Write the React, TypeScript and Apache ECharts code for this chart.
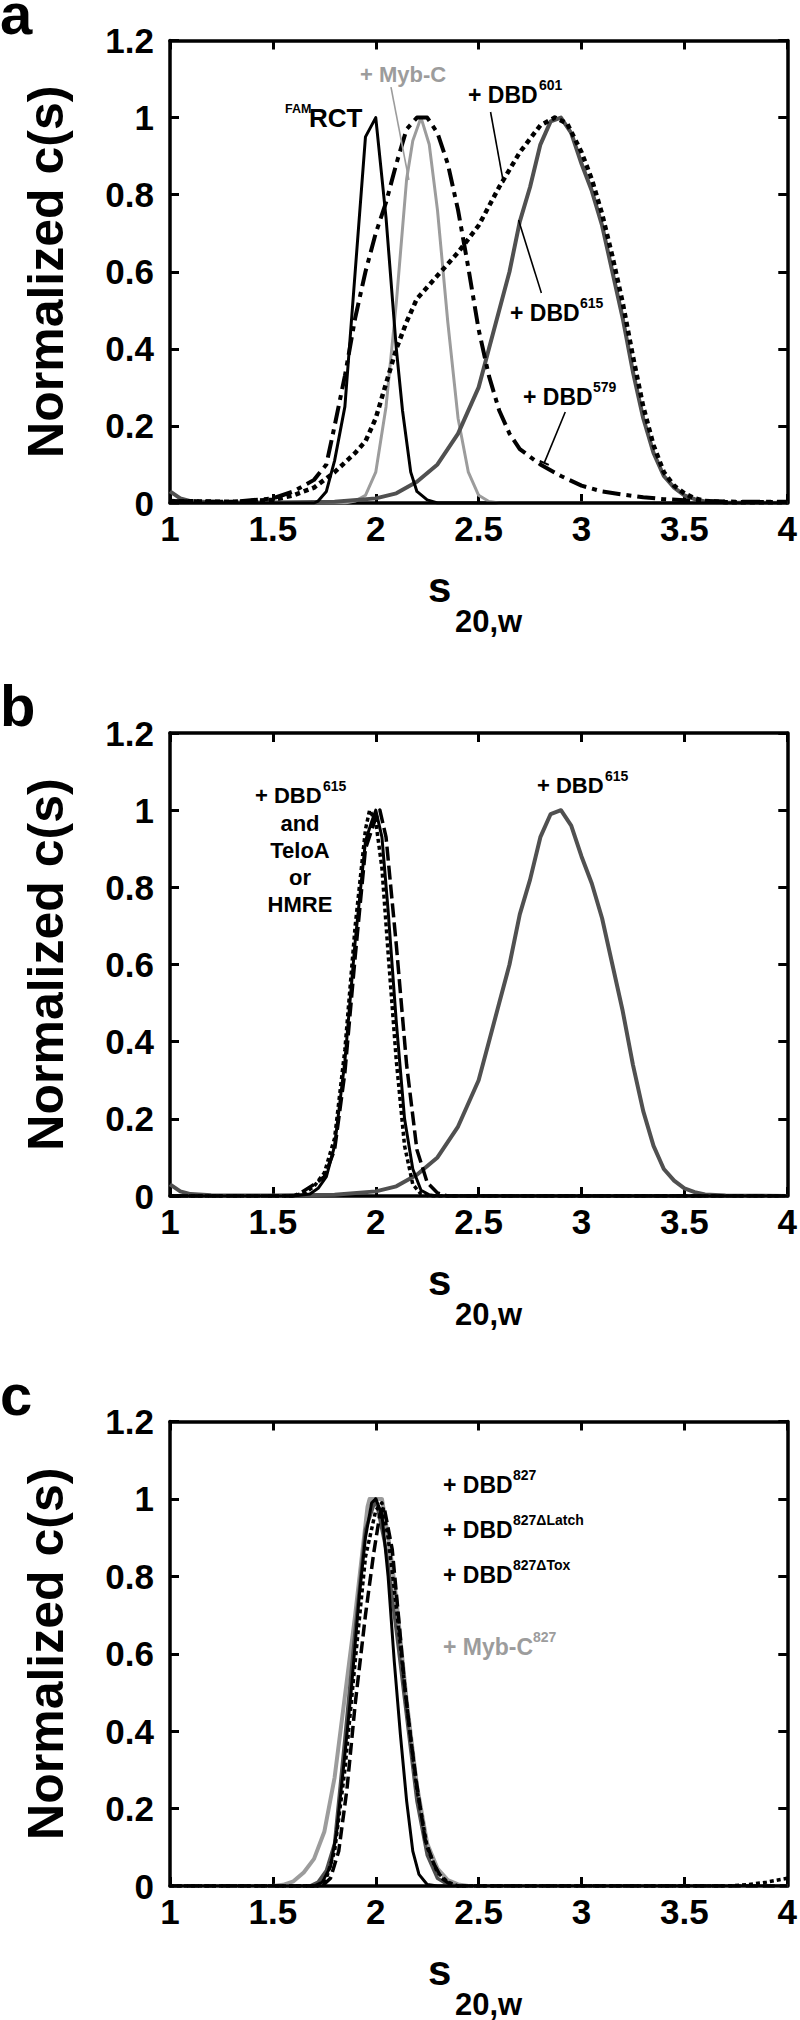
import React, { useEffect, useRef } from "react";
import * as echarts from "echarts";

// ---------------- DATA (s20,w , normalized c(s)) ----------------
// Panel a
const famRctA: [number, number][] = [
  [1.0, 0], [1.5, 0], [1.7, 0], [1.72, 0.005], [1.76, 0.03], [1.8, 0.11], [1.85, 0.25], [1.9, 0.6],
  [1.95, 0.95], [2.0, 1.0], [2.05, 0.74], [2.1, 0.4], [2.13, 0.24], [2.17, 0.08], [2.2, 0.03],
  [2.25, 0.008], [2.3, 0], [4.0, 0],
];
const mybCA: [number, number][] = [
  [1.0, 0], [1.85, 0], [1.9, 0.005], [1.95, 0.02], [2.0, 0.08], [2.05, 0.25], [2.1, 0.52], [2.15, 0.84],
  [2.18, 0.94], [2.22, 1.0], [2.26, 0.93], [2.3, 0.76], [2.35, 0.47], [2.4, 0.22], [2.45, 0.08],
  [2.5, 0.02], [2.55, 0.004], [2.6, 0], [4.0, 0],
];
const dbd579A: [number, number][] = [
  [1.0, 0.005], [1.3, 0.003], [1.5, 0.012], [1.6, 0.03], [1.7, 0.06], [1.76, 0.1], [1.8, 0.2],
  [1.85, 0.33], [1.9, 0.48], [1.95, 0.6], [2.0, 0.7], [2.05, 0.78], [2.1, 0.88], [2.15, 0.97],
  [2.2, 1.0], [2.25, 1.0], [2.3, 0.96], [2.35, 0.88], [2.4, 0.76], [2.45, 0.61], [2.5, 0.45],
  [2.55, 0.33], [2.6, 0.24], [2.65, 0.18], [2.7, 0.14], [2.8, 0.1], [2.9, 0.07], [3.0, 0.045],
  [3.1, 0.03], [3.2, 0.022], [3.3, 0.015], [3.4, 0.01], [3.5, 0.007], [3.6, 0.005], [3.8, 0.003],
  [4.0, 0.003],
];
const dbd601A: [number, number][] = [
  [1.0, 0.005], [1.3, 0.003], [1.5, 0.008], [1.6, 0.02], [1.7, 0.04], [1.8, 0.08], [1.9, 0.13],
  [1.95, 0.16], [2.0, 0.22], [2.05, 0.31], [2.1, 0.4], [2.15, 0.47], [2.2, 0.53], [2.3, 0.59],
  [2.4, 0.65], [2.5, 0.72], [2.6, 0.82], [2.7, 0.91], [2.8, 0.98], [2.87, 1.0], [2.93, 0.985],
  [3.0, 0.91], [3.05, 0.84], [3.1, 0.75], [3.15, 0.64], [3.2, 0.52], [3.25, 0.38], [3.3, 0.25],
  [3.35, 0.15], [3.4, 0.08], [3.45, 0.045], [3.5, 0.025], [3.55, 0.012], [3.6, 0.005], [3.7, 0.002],
  [4.0, 0.002],
];
const dbd615: [number, number][] = [
  [1.0, 0.03], [1.05, 0.012], [1.1, 0.005], [1.2, 0.002], [1.5, 0.001], [1.8, 0.003], [2.0, 0.012],
  [2.1, 0.025], [2.2, 0.055], [2.3, 0.1], [2.4, 0.18], [2.5, 0.3], [2.55, 0.4], [2.6, 0.5],
  [2.65, 0.6], [2.7, 0.73], [2.75, 0.82], [2.8, 0.93], [2.85, 0.99], [2.9, 1.0], [2.95, 0.96],
  [3.0, 0.88], [3.05, 0.81], [3.1, 0.72], [3.15, 0.6], [3.2, 0.48], [3.25, 0.34], [3.3, 0.22],
  [3.35, 0.13], [3.4, 0.07], [3.45, 0.04], [3.5, 0.02], [3.55, 0.01], [3.6, 0.004], [3.7, 0.001],
  [4.0, 0],
];

// Panel b (+ DBD615 with TeloA or HMRE)
const solidB: [number, number][] = [
  [1.0, 0], [1.6, 0], [1.68, 0.005], [1.72, 0.02], [1.76, 0.05], [1.8, 0.13], [1.85, 0.35],
  [1.9, 0.66], [1.95, 0.92], [1.98, 0.97], [2.0, 1.0], [2.03, 0.93], [2.06, 0.74], [2.1, 0.45],
  [2.14, 0.2], [2.18, 0.07], [2.22, 0.015], [2.26, 0.003], [2.3, 0], [4.0, 0],
];
const dottedB: [number, number][] = [
  [1.0, 0], [1.6, 0], [1.66, 0.01], [1.7, 0.025], [1.75, 0.06], [1.8, 0.15], [1.85, 0.38],
  [1.9, 0.7], [1.95, 0.95], [1.97, 1.0], [2.0, 0.97], [2.03, 0.85], [2.06, 0.63], [2.1, 0.35],
  [2.14, 0.13], [2.18, 0.03], [2.22, 0.005], [2.26, 0], [4.0, 0],
];
const dashedB: [number, number][] = [
  [1.0, 0], [1.6, 0], [1.64, 0.01], [1.7, 0.03], [1.75, 0.05], [1.8, 0.12], [1.85, 0.32],
  [1.9, 0.62], [1.95, 0.9], [2.0, 0.98], [2.02, 1.0], [2.05, 0.93], [2.1, 0.65], [2.15, 0.34],
  [2.2, 0.12], [2.25, 0.035], [2.3, 0.008], [2.35, 0], [4.0, 0],
];

// Panel c
const mybC827: [number, number][] = [
  [1.0, 0], [1.5, 0], [1.55, 0.003], [1.6, 0.012], [1.65, 0.035], [1.7, 0.07], [1.75, 0.14],
  [1.8, 0.28], [1.85, 0.49], [1.9, 0.7], [1.93, 0.84], [1.96, 0.98], [1.97, 1.0], [2.03, 1.0],
  [2.07, 0.87], [2.1, 0.74], [2.15, 0.48], [2.2, 0.26], [2.25, 0.11], [2.3, 0.045], [2.35, 0.015],
  [2.4, 0.004], [2.45, 0], [4.0, 0],
];
const greyC: [number, number][] = [
  [1.0, 0], [1.68, 0], [1.72, 0.01], [1.76, 0.04], [1.8, 0.11], [1.85, 0.38], [1.9, 0.66],
  [1.95, 0.92], [2.0, 1.0], [2.05, 0.87], [2.1, 0.66], [2.15, 0.44], [2.2, 0.22], [2.25, 0.08],
  [2.3, 0.02], [2.35, 0.004], [2.4, 0], [4.0, 0],
];
const dbd827: [number, number][] = [
  [1.0, 0], [1.7, 0], [1.74, 0.01], [1.78, 0.05], [1.81, 0.14], [1.85, 0.34], [1.88, 0.5],
  [1.92, 0.75], [1.95, 0.9], [1.98, 0.99], [2.0, 1.0], [2.03, 0.96], [2.06, 0.8], [2.09, 0.58],
  [2.12, 0.39], [2.15, 0.22], [2.18, 0.09], [2.21, 0.03], [2.25, 0.004], [2.3, 0], [4.0, 0],
];
const dbd827Latch: [number, number][] = [
  [1.0, 0], [1.74, 0], [1.78, 0.02], [1.82, 0.09], [1.86, 0.25], [1.9, 0.47], [1.95, 0.7],
  [1.99, 0.86], [2.02, 0.96], [2.04, 0.98], [2.08, 0.87], [2.11, 0.7], [2.14, 0.52], [2.17, 0.38],
  [2.2, 0.26], [2.24, 0.12], [2.28, 0.06], [2.32, 0.02], [2.36, 0.005], [2.4, 0], [4.0, 0],
];
const dbd827Tox: [number, number][] = [
  [1.0, 0], [1.72, 0], [1.76, 0.02], [1.8, 0.09], [1.85, 0.3], [1.9, 0.58], [1.95, 0.85],
  [2.0, 0.97], [2.03, 0.99], [2.06, 0.9], [2.1, 0.72], [2.15, 0.47], [2.2, 0.25], [2.25, 0.1],
  [2.3, 0.035], [2.35, 0.01], [2.4, 0], [3.7, 0], [3.8, 0.003], [3.9, 0.01], [4.0, 0.02],
];

// Leader lines of panel a, in data coordinates: [[s1, c1], [s2, c2]]
const leaderMybC: [number, number][] = [[2.074, 1.079], [2.161, 0.838]];
const leader601: [number, number][] = [[2.558, 1.0145], [2.621, 0.83]];
const leader615: [number, number][] = [[2.694, 0.734], [2.805, 0.545]];
const leader579: [number, number][] = [[2.921, 0.236], [2.819, 0.104]];
const leader579Cap: [number, number][] = [[2.797, 0.109], [2.841, 0.099]];

// Axis ticks
const X_MIN = 1, X_MAX = 4, X_STEP = 0.5;
const Y_MIN = 0, Y_MAX = 1.2, Y_STEP = 0.2;

// ---------------- LAYOUT ----------------
const FONT = '"Liberation Sans", Arial, Helvetica, sans-serif';
const GRID_LEFT = 170;
const GRID_WIDTH = 620;
const GRIDS = [
  { top: 40.5, height: 462.5 },
  { top: 733, height: 463 },
  { top: 1421.5, height: 464.5 },
];

function txt(x: number, baseline: number, text: string, fs: number, color = "#000", align = "left") {
  return {
    type: "text",
    x,
    y: baseline - 0.35 * fs,
    silent: true,
    style: {
      text,
      fill: color,
      font: `bold ${fs}px ${FONT}`,
      align,
      verticalAlign: "middle",
    },
  };
}

function lineSeries(name: string, data: [number, number][], gi: number, color: string, width: number, type: any, z = 2, extra: any = {}) {
  return {
    name,
    type: "line",
    xAxisIndex: gi * 2,
    yAxisIndex: gi * 2,
    data,
    showSymbol: false,
    symbol: "none",
    silent: true,
    z,
    lineStyle: { color, width, type, cap: "butt", join: "round" },
    ...extra,
  };
}

function seg(p: [number, number][], color = "#000", width = 1.6) {
  return [
    { coord: p[0], lineStyle: { color, width, type: "solid" } },
    { coord: p[1] },
  ];
}

export default function App() {
  const ref = useRef<HTMLDivElement>(null);
  useEffect(() => {
    if (!ref.current) return;
    const chart = echarts.init(ref.current, undefined, { renderer: "svg" });

    const xAxes: any[] = [];
    const yAxes: any[] = [];
    const grids: any[] = [];
    GRIDS.forEach((g, i) => {
      grids.push({ left: GRID_LEFT, width: GRID_WIDTH, top: g.top, height: g.height, containLabel: false });
      const axLine = { show: true, onZero: false, lineStyle: { color: "#000", width: 3.5 } };
      const tick = { show: true, inside: true, length: 9, lineStyle: { color: "#000", width: 3 } };
      xAxes.push({
        gridIndex: i, type: "value", position: "bottom", min: X_MIN, max: X_MAX, interval: X_STEP,
        axisLine: axLine, axisTick: tick, splitLine: { show: false },
        axisLabel: { color: "#000", fontSize: 35, fontWeight: "bold", fontFamily: FONT, margin: 8 },
      });
      xAxes.push({
        gridIndex: i, type: "value", position: "top", min: X_MIN, max: X_MAX, interval: X_STEP,
        axisLine: axLine, axisTick: tick, splitLine: { show: false }, axisLabel: { show: false },
      });
      yAxes.push({
        gridIndex: i, type: "value", position: "left", min: Y_MIN, max: Y_MAX, interval: Y_STEP,
        axisLine: axLine, axisTick: tick, splitLine: { show: false },
        axisLabel: { color: "#000", fontSize: 35, fontWeight: "bold", fontFamily: FONT, margin: 16 },
      });
      yAxes.push({
        gridIndex: i, type: "value", position: "right", min: Y_MIN, max: Y_MAX, interval: Y_STEP,
        axisLine: axLine, axisTick: tick, splitLine: { show: false }, axisLabel: { show: false },
      });
    });

    const series: any[] = [
      // panel a
      lineSeries("+ Myb-C", mybCA, 0, "#9c9c9c", 3, "solid", 2),
      lineSeries("+ DBD615", dbd615, 0, "#505050", 4, "solid", 3),
      lineSeries("FAM RCT", famRctA, 0, "#000", 3, "solid", 4),
      lineSeries("+ DBD579", dbd579A, 0, "#000", 4, [18, 6, 5, 6], 4),
      lineSeries("+ DBD601", dbd601A, 0, "#000", 4.5, [5, 4], 5, {
        markLine: {
          silent: true,
          symbol: ["none", "none"],
          label: { show: false },
          animation: false,
          data: [
            seg(leaderMybC, "#9c9c9c", 1.6),
            seg(leader601),
            seg(leader615),
            seg(leader579),
            seg(leader579Cap, "#000", 2),
          ],
        },
      }),
      // panel b
      lineSeries("+ DBD615 (b)", dbd615, 1, "#505050", 4, "solid", 3),
      lineSeries("+ DBD615 and TeloA", solidB, 1, "#000", 3, "solid", 4),
      lineSeries("+ DBD615 and HMRE", dottedB, 1, "#000", 3.5, [4, 3], 5),
      lineSeries("+ DBD615 and DNA", dashedB, 1, "#000", 3.5, [14, 5], 5),
      // panel c
      lineSeries("+ Myb-C827", mybC827, 2, "#9c9c9c", 4, "solid", 2),
      lineSeries("grey", greyC, 2, "#505050", 3.5, "solid", 3),
      lineSeries("+ DBD827", dbd827, 2, "#000", 3, "solid", 4),
      lineSeries("+ DBD827ΔLatch", dbd827Latch, 2, "#000", 3.5, [12, 5], 5),
      lineSeries("+ DBD827ΔTox", dbd827Tox, 2, "#000", 3.5, [4, 3], 6),
    ];

    const graphics: any[] = [];
    const letters = ["a", "b", "c"];
    GRIDS.forEach((g, i) => {
      const bottom = g.top + g.height;
      graphics.push(txt(0, g.top - 7, letters[i], 58));
      graphics.push({
        type: "text",
        x: 45.5,
        y: g.top + g.height / 2,
        rotation: Math.PI / 2,
        silent: true,
        style: {
          text: "Normalized c(s)",
          fill: "#000",
          font: `bold 50px ${FONT}`,
          align: "center",
          verticalAlign: "middle",
        },
      });
      graphics.push(txt(428, bottom + 99, "s", 42));
      graphics.push(txt(455, bottom + 129, "20,w", 31));
    });

    // panel a annotations
    graphics.push(txt(285, 113, "FAM", 12.5));
    graphics.push(txt(309, 127, "RCT", 26));
    graphics.push(txt(360, 82, "+ Myb-C", 22, "#9c9c9c"));
    graphics.push(txt(468, 103, "+ DBD", 23));
    graphics.push(txt(539, 90, "601", 14));
    graphics.push(txt(510, 321, "+ DBD", 23));
    graphics.push(txt(580, 308, "615", 14));
    graphics.push(txt(523, 405, "+ DBD", 23));
    graphics.push(txt(593, 392, "579", 14));

    // panel b annotations
    graphics.push(txt(255, 803, "+ DBD", 22));
    graphics.push(txt(323, 791, "615", 14));
    graphics.push(txt(300, 831, "and", 22, "#000", "center"));
    graphics.push(txt(300, 858, "TeloA", 22, "#000", "center"));
    graphics.push(txt(300, 885, "or", 22, "#000", "center"));
    graphics.push(txt(300, 912, "HMRE", 22, "#000", "center"));
    graphics.push(txt(537, 793, "+ DBD", 22));
    graphics.push(txt(605, 781, "615", 14));

    // panel c annotations
    graphics.push(txt(443, 1493, "+ DBD", 23));
    graphics.push(txt(513, 1480, "827", 14));
    graphics.push(txt(443, 1538, "+ DBD", 23));
    graphics.push(txt(513, 1525, "827ΔLatch", 14));
    graphics.push(txt(443, 1583, "+ DBD", 23));
    graphics.push(txt(513, 1570, "827ΔTox", 14));
    graphics.push(txt(443, 1655, "+ Myb-C", 23, "#9c9c9c"));
    graphics.push(txt(533, 1642, "827", 14, "#9c9c9c"));

    chart.setOption({
      animation: false,
      backgroundColor: "#fff",
      grid: grids,
      xAxis: xAxes,
      yAxis: yAxes,
      series,
      graphic: graphics,
    });
    return () => chart.dispose();
  }, []);
  return <div ref={ref} style={{ position: "absolute", left: 0, top: 0, width: 800, height: 2020 }} />;
}
